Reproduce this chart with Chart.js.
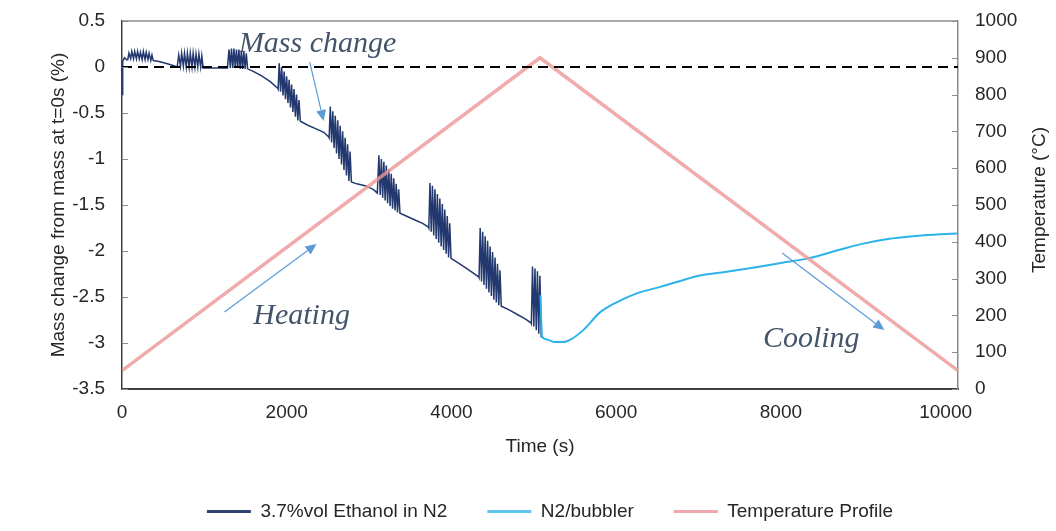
<!DOCTYPE html>
<html>
<head>
<meta charset="utf-8">
<script src="https://cdn.jsdelivr.net/npm/chart.js@4.4.0/dist/chart.umd.min.js"></script>
<style>
  html, body { margin: 0; padding: 0; background: #fff; }
  #wrap { width: 1056px; height: 531px; }
</style>
</head>
<body>
<div id="wrap"><canvas id="chart" width="1056" height="531"></canvas></div>
<script>
// Mass change (%) for 3.7%vol ethanol in N2, spikes are the pulse blocks
const ethTime = [
  0, 8, 30, 55,
  70, 84, 105, 119, 140, 154, 175, 189, 210, 224, 245, 259, 280, 294, 315, 329, 350, 364,
  380, 450, 530, 610, 670,
  675, 689, 710, 724, 745, 759, 780, 794, 815, 829, 850, 864, 885, 899, 920, 934, 955, 969,
  985, 1100, 1200, 1280,
  1285, 1299, 1315, 1329, 1345, 1359, 1375, 1389, 1405, 1419, 1435, 1449, 1465, 1479, 1495, 1509,
  1525, 1600, 1700, 1800, 1890,
  1895, 1909, 1925, 1939, 1955, 1969, 1985, 1999, 2015, 2029, 2045, 2059, 2075, 2089, 2105, 2119, 2135, 2149,
  2165, 2250, 2350, 2450, 2510,
  2515, 2529, 2545, 2559, 2575, 2589, 2605, 2619, 2635, 2649, 2665, 2679, 2695, 2709, 2725, 2739, 2755, 2769,
  2785, 2850, 2950, 3050, 3100,
  3105, 3119, 3135, 3149, 3165, 3179, 3195, 3209, 3225, 3239, 3255, 3269, 3285, 3299, 3315, 3329, 3345, 3359,
  3375, 3450, 3550, 3650, 3720,
  3725, 3739, 3755, 3769, 3785, 3799, 3815, 3829, 3845, 3859, 3875, 3889, 3905, 3919, 3935, 3949, 3965, 3979,
  3995, 4100, 4200, 4330,
  4335, 4349, 4365, 4379, 4395, 4409, 4425, 4439, 4455, 4469, 4485, 4499, 4515, 4529, 4545, 4559, 4575, 4589,
  4605, 4700, 4800, 4900, 4965,
  4970, 4984, 5000, 5014, 5030, 5044, 5060, 5074,
  5090
];
const ethMass = [
  -0.3, 0.06, 0.1, 0.08,
  0.08, 0.15, 0.09, 0.17, 0.09, 0.17, 0.09, 0.17, 0.09, 0.16, 0.08, 0.17, 0.08, 0.16, 0.08, 0.15, 0.07, 0.13,
  0.07, 0.06, 0.04, 0.02, 0.0,
  0.0, 0.13, 0.01, 0.15, 0.01, 0.15, 0.0, 0.15, 0.0, 0.15, 0.0, 0.15, 0.0, 0.14, 0.0, 0.14, 0.0, 0.12,
  -0.01, -0.01, -0.01, -0.01,
  -0.01, 0.19, -0.01, 0.2, -0.01, 0.2, -0.01, 0.19, -0.01, 0.19, -0.02, 0.18, -0.02, 0.17, -0.02, 0.15,
  -0.02, -0.05, -0.1, -0.16, -0.23,
  -0.24, 0.04, -0.27, 0.0, -0.31, -0.05, -0.35, -0.1, -0.39, -0.14, -0.44, -0.19, -0.49, -0.24, -0.54, -0.3, -0.58, -0.36,
  -0.59, -0.63, -0.67, -0.71, -0.76,
  -0.77, -0.43, -0.82, -0.48, -0.88, -0.53, -0.94, -0.58, -1.0, -0.64, -1.06, -0.7, -1.12, -0.77, -1.18, -0.84, -1.24, -0.92,
  -1.25, -1.27, -1.29, -1.33, -1.37,
  -1.37, -0.96, -1.39, -1.0, -1.42, -1.03, -1.45, -1.07, -1.48, -1.11, -1.51, -1.16, -1.54, -1.21, -1.56, -1.27, -1.58, -1.33,
  -1.59, -1.62, -1.66, -1.7, -1.74,
  -1.75, -1.26, -1.79, -1.29, -1.83, -1.33, -1.87, -1.38, -1.91, -1.43, -1.95, -1.49, -1.99, -1.55, -2.03, -1.62, -2.07, -1.7,
  -2.08, -2.14, -2.2, -2.28,
  -2.29, -1.75, -2.33, -1.79, -2.37, -1.84, -2.41, -1.89, -2.45, -1.95, -2.49, -2.01, -2.53, -2.07, -2.56, -2.14, -2.59, -2.21,
  -2.6, -2.64, -2.69, -2.74, -2.78,
  -2.79, -2.17, -2.82, -2.19, -2.86, -2.22, -2.9, -2.27,
  -2.94
];

// N2/bubbler mass change (%)
const bubTime = [5080, 5090, 5100, 5150, 5250, 5350, 5450, 5600, 5800, 6000, 6250, 6535, 6800, 7000, 7300, 7600, 8000, 8330, 8700, 9000, 9300, 9600, 9900, 10150];
const bubMass = [-2.48, -2.75, -2.93, -2.96, -2.99, -2.99, -2.96, -2.86, -2.67, -2.56, -2.46, -2.39, -2.32, -2.27, -2.23, -2.19, -2.13, -2.08, -1.99, -1.92, -1.87, -1.84, -1.82, -1.81];

// temperature profile (°C)
const tempTime = [0, 5075, 10150];
const tempC = [50, 900, 50];

// zero reference line
const zeroTime = [0, 10150];
const zeroMass = [0, 0];

const timeTicks = [0, 2000, 4000, 6000, 8000, 10000];
const massTicks = [0.5, 0, -0.5, -1, -1.5, -2, -2.5, -3, -3.5];
const tempTicks = [0, 100, 200, 300, 400, 500, 600, 700, 800, 900, 1000];

const notes = [
  { text: 'Mass change', t: 2375, m: 0.163 },
  { text: 'Heating', t: 2180, m: -2.793 },
  { text: 'Cooling', t: 8368, m: -3.043 }
];
const arrows = [
  { from: [2279, 0.054], to: [2448, -0.587] },
  { from: [1244, -2.663], to: [2362, -1.924] },
  { from: [8016, -2.022], to: [9256, -2.859] }
];

const toPoints = (xs, ys) => xs.map((v, i) => ({ x: v, y: ys[i] }));
const asTicks = list => list.map(v => ({ value: v }));
// keep the plot box fixed: no extra room asked for by the tick labels
const fixWidth = w => s => { s.width = w; s.paddingTop = 0; s.paddingBottom = 0; };

const FONT = '"Liberation Sans", Arial, sans-serif';
const TXT = '#262626';

// frame, inner tick marks, right title, arrows and labels
const decor = {
  id: 'decor',
  afterDraw(chart) {
    const { ctx, chartArea: area, scales } = chart;
    const x = scales.x, y = scales.y, y2 = scales.y2;
    ctx.save();

    ctx.strokeStyle = '#8c8c8c';
    ctx.lineWidth = 1.5;
    ctx.beginPath();
    ctx.moveTo(area.left, area.top);
    ctx.lineTo(area.right, area.top);
    ctx.stroke();

    ctx.lineWidth = 1;
    y.ticks.forEach(tk => {
      const py = Math.round(y.getPixelForValue(tk.value)) + 0.5;
      ctx.beginPath();
      ctx.moveTo(area.left, py);
      ctx.lineTo(area.left + 6, py);
      ctx.stroke();
    });
    y2.ticks.forEach(tk => {
      const py = Math.round(y2.getPixelForValue(tk.value)) + 0.5;
      ctx.beginPath();
      ctx.moveTo(area.right - 6, py);
      ctx.lineTo(area.right, py);
      ctx.stroke();
    });

    // right axis title reads bottom to top like the left one
    ctx.save();
    ctx.translate(1040, (area.top + area.bottom) / 2 - 5);
    ctx.rotate(-Math.PI / 2);
    ctx.font = '19px ' + FONT;
    ctx.fillStyle = TXT;
    ctx.textAlign = 'center';
    ctx.textBaseline = 'middle';
    ctx.fillText('Temperature (°C)', 0, 0);
    ctx.restore();

    ctx.strokeStyle = '#5B9BD5';
    ctx.fillStyle = '#5B9BD5';
    ctx.lineWidth = 1.2;
    arrows.forEach(a => {
      const x0 = x.getPixelForValue(a.from[0]), y0 = y.getPixelForValue(a.from[1]);
      const x1 = x.getPixelForValue(a.to[0]), y1 = y.getPixelForValue(a.to[1]);
      const ang = Math.atan2(y1 - y0, x1 - x0);
      const head = 11, half = 5;
      const bx = x1 - head * Math.cos(ang), by = y1 - head * Math.sin(ang);
      ctx.beginPath();
      ctx.moveTo(x0, y0);
      ctx.lineTo(bx, by);
      ctx.stroke();
      ctx.beginPath();
      ctx.moveTo(x1, y1);
      ctx.lineTo(bx + half * Math.sin(ang), by - half * Math.cos(ang));
      ctx.lineTo(bx - half * Math.sin(ang), by + half * Math.cos(ang));
      ctx.closePath();
      ctx.fill();
    });

    ctx.font = 'italic 30px "Liberation Serif", "DejaVu Serif", serif';
    ctx.fillStyle = '#44546A';
    ctx.textAlign = 'center';
    ctx.textBaseline = 'alphabetic';
    notes.forEach(n => {
      ctx.fillText(n.text, x.getPixelForValue(n.t), y.getPixelForValue(n.m));
    });
    ctx.restore();
  }
};

new Chart(document.getElementById('chart'), {
  type: 'line',
  data: {
    datasets: [
      {
        label: '3.7%vol Ethanol in N2',
        data: toPoints(ethTime, ethMass),
        borderColor: '#22386e',
        backgroundColor: '#2f4470',
        borderWidth: 1.5,
        pointRadius: 0,
        yAxisID: 'y',
        order: 3
      },
      {
        label: 'N2/bubbler',
        data: toPoints(bubTime, bubMass),
        borderColor: '#2bb3ea',
        backgroundColor: '#5cc6ee',
        borderWidth: 2,
        pointRadius: 0,
        cubicInterpolationMode: 'monotone',
        yAxisID: 'y',
        order: 2
      },
      {
        label: 'Temperature Profile',
        data: toPoints(tempTime, tempC),
        borderColor: 'rgba(236, 150, 150, 0.8)',
        backgroundColor: 'rgba(236, 160, 165, 0.9)',
        borderWidth: 3.5,
        pointRadius: 0,
        yAxisID: 'y2',
        order: 1
      },
      {
        label: 'zero',
        data: toPoints(zeroTime, zeroMass),
        borderColor: '#000',
        borderWidth: 2,
        borderDash: [10, 6],
        pointRadius: 0,
        yAxisID: 'y',
        order: 0
      }
    ]
  },
  options: {
    responsive: false,
    animation: false,
    devicePixelRatio: 1,
    layout: { padding: { top: 21, left: 44, right: 0, bottom: 0 } },
    plugins: {
      tooltip: { enabled: false },
      legend: {
        position: 'bottom',
        labels: {
          font: { family: FONT, size: 19 },
          color: TXT,
          boxWidth: 44,
          boxHeight: 3,
          padding: 40,
          filter: item => item.text !== 'zero',
          sort: (a, b) => a.datasetIndex - b.datasetIndex,
          generateLabels: chart => Chart.defaults.plugins.legend.labels.generateLabels(chart)
            .map(l => Object.assign(l, { fillStyle: chart.data.datasets[l.datasetIndex].backgroundColor, lineWidth: 0 }))
        }
      }
    },
    scales: {
      x: {
        type: 'linear',
        min: 0,
        max: 10150,
        afterFit: s => { s.height = 73; },
        afterBuildTicks: s => { s.ticks = asTicks(timeTicks); },
        grid: { display: true, drawOnChartArea: false, drawTicks: false },
        border: { color: '#404040', width: 2 },
        ticks: {
          maxRotation: 0,
          padding: 12,
          color: TXT,
          font: { family: FONT, size: 19 },
          callback: v => String(v)
        },
        title: {
          display: true,
          text: 'Time (s)',
          color: TXT,
          font: { family: FONT, size: 19 },
          padding: { top: 0, bottom: 4 }
        }
      },
      y: {
        position: 'left',
        min: -3.5,
        max: 0.5,
        afterFit: fixWidth(78),
        afterBuildTicks: s => { s.ticks = asTicks(massTicks); },
        grid: { display: true, drawOnChartArea: false, drawTicks: false },
        border: { color: '#404040', width: 1.5 },
        ticks: {
          padding: 17,
          color: TXT,
          font: { family: FONT, size: 19 },
          callback: v => String(Math.round(v * 10) / 10)
        },
        title: {
          display: true,
          text: 'Mass change from mass at t=0s (%)',
          color: TXT,
          font: { family: FONT, size: 19 },
          padding: { top: 3, bottom: 0 }
        }
      },
      y2: {
        position: 'right',
        min: 0,
        max: 1000,
        afterFit: fixWidth(98),
        afterBuildTicks: s => { s.ticks = asTicks(tempTicks); },
        grid: { display: true, drawOnChartArea: false, drawTicks: false },
        border: { color: '#8c8c8c', width: 1.5 },
        ticks: {
          padding: 17,
          color: TXT,
          font: { family: FONT, size: 19 },
          callback: v => String(v)
        }
      }
    }
  },
  plugins: [decor]
});
</script>
</body>
</html>
